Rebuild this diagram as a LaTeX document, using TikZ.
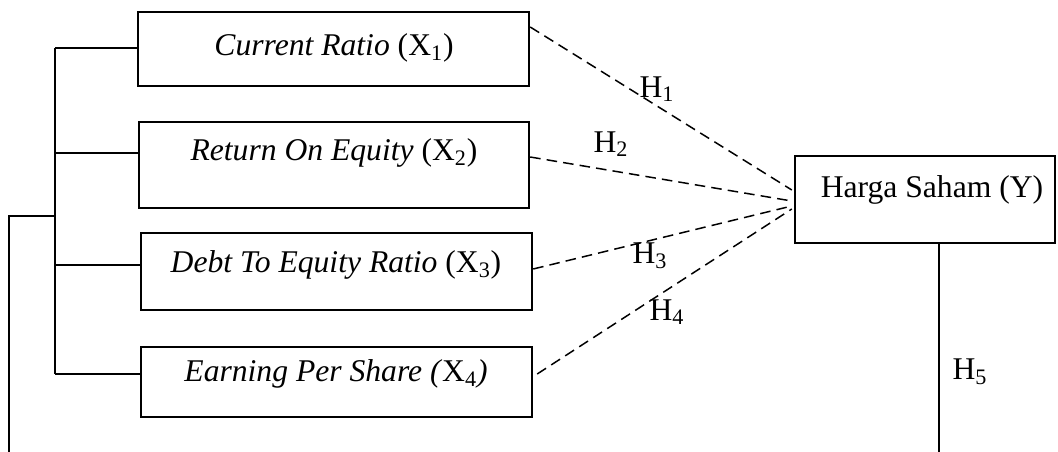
\documentclass[tikz,border=0pt]{standalone}
\usepackage{fontspec}
\setmainfont{Liberation Serif}
\usetikzlibrary{positioning}

\begin{document}
\begin{tikzpicture}[x=0.02cm, y=-0.02cm,
      box/.style={draw, line width=1.4pt, minimum width=7.82cm, inner sep=0pt},
      conn/.style={line width=0.6pt},
      hyp/.style={line width=0.85pt, dash pattern=on 6pt off 3.5pt},
      txt/.style={font=\fontsize{18}{22}\selectfont},
      lbl/.style={font=\fontsize{18}{22}\selectfont, inner sep=0pt}]
    \useasboundingbox (0,0) rectangle (1058,452);
    % boxes
    \node[box, minimum height=1.48cm] (b1) at (333.5,49) {};
    \node[box, minimum height=1.72cm, minimum width=7.8cm] (b2) at (334,165) {};
    \node[box, minimum height=1.54cm] (b3) at (336.5,271.5) {};
    \node[box, minimum height=1.4cm] (b4) at (336.5,382) {};
    \node[box, minimum height=1.74cm, minimum width=5.2cm] (hy) at (925,199.5) {};
    \node[txt] (t1) at (334,48) {\textit{Current Ratio} (X\textsubscript{1})};
    \node[txt] (t2) at (334,153) {\textit{Return On Equity} (X\textsubscript{2})};
    \node[txt] (t3) at (336,265) {\textit{Debt To Equity Ratio} (X\textsubscript{3})};
    \node[txt] (t4) at (336,374) {\textit{Earning Per Share (}X\textsubscript{4}\textit{)}};
    \node[txt] (ty) at (932,190) {Harga Saham (Y)};
    % left bracket
    \coordinate (spine) at (55,0);
    \coordinate (outer) at (9,216);
    \coordinate (outerend) at (9,452);
    \foreach \i in {1,...,4}
      \draw[conn] (t\i -| b\i.west) -- (t\i -| spine);
    \draw[conn] (t1 -| spine) -- (t4 -| spine);
    \draw[conn] (outer -| spine) -- (outer) -- (outerend);
    % hypotheses
    \draw[hyp] ([yshift=0.44cm]b1.east) -- ([xshift=-0.04cm, yshift=0.19cm]hy.west);
    \draw[hyp] ([yshift=0.16cm]b2.east) -- ([xshift=-0.04cm, yshift=-0.03cm]hy.west);
    \draw[hyp] ([yshift=0.05cm]b3.east) -- ([xshift=-0.04cm, yshift=-0.13cm]hy.west);
    \draw[hyp] ([xshift=0.08cm, yshift=0.16cm]b4.east) -- ([xshift=-0.04cm, yshift=-0.19cm]hy.west);
    \node[lbl] (h1) at (657,89) {H\textsubscript{1}};
    \node[lbl] (h2) at (611,144) {H\textsubscript{2}};
    \node[lbl] (h3) at (650,256) {H\textsubscript{3}};
    \node[lbl] (h4) at (667,312) {H\textsubscript{4}};
    \coordinate (yend) at (939,452);
    \draw[conn] (yend |- hy.south) -- (yend);
    \node[lbl] (h5) at (970,372) {H\textsubscript{5}};
  \end{tikzpicture}
\end{document}
